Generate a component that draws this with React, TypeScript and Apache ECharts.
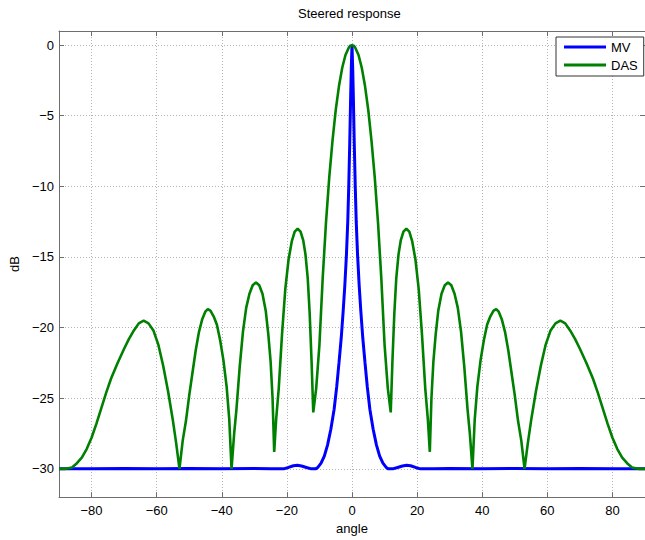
import React, { useEffect, useRef } from "react";
import * as echarts from "echarts";

const xTicks = [-80, -60, -40, -20, 0, 20, 40, 60, 80];
const yTicks = [-30, -25, -20, -15, -10, -5, 0];

// DAS (delay-and-sum) response
const dasAngles = [
  -90, -88, -86, -84.5, -83, -81.5, -80, -78.5, -77, -75.5, -74, -72, -70, -68.5, -67,
  -65.5, -64, -62.5, -61, -59.5, -58, -56.5, -55, -54, -53,
  -52, -51, -50, -49, -48, -47, -46, -45, -44.3, -43.5, -42.5, -41.5, -40.5, -39.5,
  -38.5, -37.7, -37,
  -36.2, -35.5, -34.5, -33.5, -32.5, -31.5, -30.5, -29.5, -28.5, -27.5, -26.5, -25.7,
  -25, -24.4, -23.9,
  -23.3, -22.5, -21.5, -20.5, -19.5, -18.5, -17.6, -16.7, -15.8, -15, -14.3, -13.6, -13,
  -12.4, -11.9,
  -11, -10, -9, -8, -7, -6, -5, -4, -3, -2, -1, -0.5, 0, 0.5, 1, 2, 3, 4, 5, 6, 7, 8, 9,
  10, 11,
  11.9, 12.4, 13, 13.6, 14.3, 15, 15.8, 16.7, 17.6, 18.5, 19.5, 20.5, 21.5, 22.5, 23.3,
  23.9, 24.4, 25, 25.7, 26.5, 27.5, 28.5, 29.5, 30.5, 31.5, 32.5, 33.5, 34.5, 35.5, 36.2,
  37, 37.7, 38.5, 39.5, 40.5, 41.5, 42.5, 43.5, 44.3, 45, 46, 47, 48, 49, 50, 51, 52,
  53, 54, 55, 56.5, 58, 59.5, 61, 62.5, 64, 65.5, 67, 68.5, 70, 72, 74, 75.5, 77, 78.5,
  80, 81.5, 83, 84.5, 86, 88, 90,
];
const dasDb = [
  -30, -30, -29.9, -29.6, -29.2, -28.6, -27.8, -26.8, -25.7, -24.6, -23.6, -22.5, -21.5,
  -20.8, -20.2, -19.7, -19.5, -19.7, -20.2, -21.2, -22.7, -24.5, -26.6, -28.2, -30,
  -28, -26.6, -24.8, -23.2, -21.6, -20.3, -19.4, -18.85, -18.7, -18.8, -19.2, -19.8,
  -20.9, -22.3, -24.2, -26.5, -30,
  -27.5, -25.8, -22.8, -20.3, -18.6, -17.6, -17.0, -16.8, -17.0, -17.6, -18.8, -20.5,
  -22.4, -25, -28.8,
  -26.5, -24.3, -20.5, -17.3, -15.2, -13.9, -13.2, -13.0, -13.2, -13.8, -14.8, -16.5,
  -19, -22.5, -26,
  -24.3, -21.2, -16.5, -12.6, -9.4, -6.8, -4.6, -2.9, -1.6, -0.7, -0.18, -0.04, 0,
  -0.04, -0.18, -0.7, -1.6, -2.9, -4.6, -6.8, -9.4, -12.6, -16.5, -21.2, -24.3,
  -26, -22.5, -19, -16.5, -14.8, -13.8, -13.2, -13.0, -13.2, -13.9, -15.2, -17.3, -20.5,
  -24.3, -26.5,
  -28.8, -25, -22.4, -20.5, -18.8, -17.6, -17.0, -16.8, -17.0, -17.6, -18.6, -20.3,
  -22.8, -25.8, -27.5,
  -30, -26.5, -24.2, -22.3, -20.9, -19.8, -19.2, -18.8, -18.7, -18.85, -19.4, -20.3,
  -21.6, -23.2, -24.8, -26.6, -28,
  -30, -28.2, -26.6, -24.5, -22.7, -21.2, -20.2, -19.7, -19.5, -19.7, -20.2, -20.8,
  -21.5, -22.5, -23.6, -24.6, -25.7, -26.8, -27.8, -28.6, -29.2, -29.6, -29.9, -30, -30,
];

// MV (minimum variance) response
const mvAngles = [
  -90, -80, -70, -60, -50, -40, -30, -25, -21, -19.5, -18, -16.8, -15.5, -14, -12.5,
  -11.2, -10.5, -9.5, -8.5, -7.5, -6.5, -5.5, -4.7, -4, -3.3, -2.7, -2.2, -1.7, -1.3,
  -1, -0.7, -0.4, -0.2, 0, 0.2, 0.4, 0.7, 1, 1.3, 1.7, 2.2, 2.7, 3.3, 4, 4.7, 5.5, 6.5,
  7.5, 8.5, 9.5, 10.5, 11.2, 12.5, 14, 15.5, 16.8, 18, 19.5, 21, 25, 30, 40, 50, 60, 70,
  80, 90,
];
const mvDb = [
  -30, -30, -29.97, -30, -29.97, -30, -29.97, -30, -30, -29.9, -29.78, -29.75, -29.8,
  -29.9, -30, -30, -29.9, -29.6, -29.1, -28.3, -27.2, -25.8, -24.2, -22.5, -20.7, -18.8,
  -17, -14.8, -12.5, -10, -7, -3.5, -1.5, 0, -1.5, -3.5, -7, -10, -12.5, -14.8, -17,
  -18.8, -20.7, -22.5, -24.2, -25.8, -27.2, -28.3, -29.1, -29.6, -29.9, -30, -30, -29.9,
  -29.8, -29.75, -29.78, -29.9, -30, -30, -29.97, -30, -29.97, -30, -29.97, -30, -30,
];

const FONT = "Liberation Sans, Arial, Helvetica, sans-serif";
const AXIS_COLOR = "#6e6e6e";
const fmt = (v: number) => String(v).replace("-", "\u2212");

export default function App() {
  const ref = useRef<HTMLDivElement>(null);
  useEffect(() => {
    if (!ref.current) return;
    const chart = echarts.init(ref.current, null, { renderer: "svg" });
    const gridLine = { show: true, lineStyle: { color: "#b4b4b4", type: [1, 2], width: 1 } };
    const axisLine = { show: true, onZero: false, lineStyle: { color: AXIS_COLOR, width: 1 } };
    chart.setOption({
      animation: false,
      backgroundColor: "#ffffff",
      textStyle: { fontFamily: FONT },
      title: {
        text: "Steered response",
        left: 298,
        top: 7,
        padding: 0,
        textStyle: { fontFamily: FONT, fontSize: 13, fontWeight: "normal", color: "#000" },
      },
      legend: {
        orient: "vertical",
        left: 556,
        top: 37,
        padding: [3, 6, 4, 8],
        itemWidth: 42,
        itemHeight: 3,
        itemGap: 4,
        icon: "rect",
        borderColor: "#333",
        borderWidth: 1,
        borderRadius: 0,
        backgroundColor: "#fff",
        textStyle: { fontFamily: FONT, fontSize: 13, color: "#000", lineHeight: 14 },
        data: ["MV", "DAS"],
      },
      grid: { left: 56, right: -4, top: 31, bottom: 41, containLabel: false },
      xAxis: [
        {
          type: "value",
          min: -90,
          max: 90,
          position: "bottom",
          name: "angle",
          nameLocation: "middle",
          nameGap: 21,
          nameTextStyle: { fontFamily: FONT, fontSize: 13, color: "#000" },
          axisLine,
          axisTick: { show: true, inside: true, length: 5, customValues: xTicks, lineStyle: { color: AXIS_COLOR } },
          axisLabel: { customValues: xTicks, formatter: fmt, margin: 7, fontFamily: FONT, fontSize: 13, color: "#000" },
          splitLine: gridLine,
        },
        {
          type: "value",
          min: -90,
          max: 90,
          position: "top",
          axisLine,
          axisTick: { show: true, inside: true, length: 5, customValues: xTicks, lineStyle: { color: AXIS_COLOR } },
          axisLabel: { show: false },
          splitLine: { show: false },
        },
      ],
      yAxis: [
        {
          type: "value",
          min: -32,
          max: 1,
          position: "left",
          name: "dB",
          nameLocation: "middle",
          nameRotate: 90,
          nameGap: 38,
          nameTextStyle: { fontFamily: FONT, fontSize: 13, color: "#000" },
          axisLine,
          axisTick: { show: true, inside: true, length: 5, customValues: yTicks, lineStyle: { color: AXIS_COLOR } },
          axisLabel: { customValues: yTicks, formatter: fmt, margin: 5, fontFamily: FONT, fontSize: 13, color: "#000" },
          splitLine: gridLine,
        },
        {
          type: "value",
          min: -32,
          max: 1,
          position: "right",
          axisLine,
          axisTick: { show: true, inside: true, length: 5, customValues: yTicks, lineStyle: { color: AXIS_COLOR } },
          axisLabel: { show: false },
          splitLine: { show: false },
        },
      ],
      series: [
        {
          name: "MV",
          type: "line",
          symbol: "none",
          color: "#0000ff",
          lineStyle: { color: "#0000ff", width: 3 },
          data: mvAngles.map((a, i) => [a, mvDb[i]]),
          z: 2,
        },
        {
          name: "DAS",
          type: "line",
          symbol: "none",
          color: "#008000",
          lineStyle: { color: "#008000", width: 2.6 },
          data: dasAngles.map((a, i) => [a, dasDb[i]]),
          z: 3,
        },
      ],
    });
    return () => chart.dispose();
  }, []);
  return (
    <div
      ref={ref}
      style={{ position: "fixed", left: 0, top: 0, width: 645, height: 540, background: "#fff" }}
    />
  );
}
